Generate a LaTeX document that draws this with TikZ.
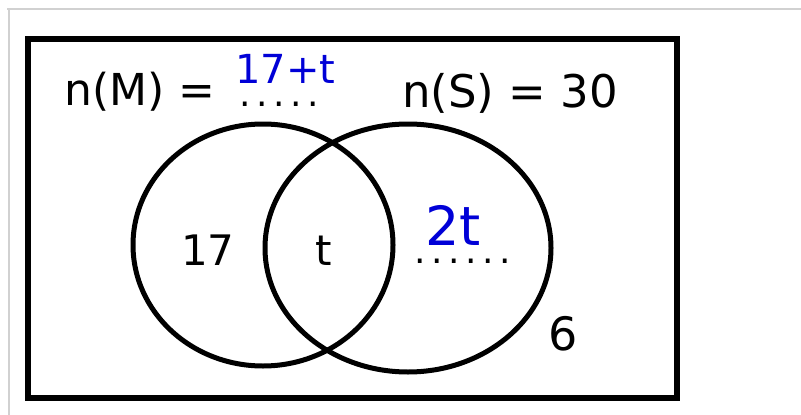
\documentclass[tikz,border=0pt]{standalone}
\usepackage{fontspec}
\setmainfont{DejaVu Sans}
\usetikzlibrary{
    positioning,
    shapes.geometric,
}
\definecolor{ansblue}{RGB}{0,0,215}

\begin{document}
\begin{tikzpicture}[
        x=1pt, y=-1pt,
        frame/.style={draw, line width=6pt},
        edgeline/.style={draw, black!18, line width=1.2pt},
        setring/.style={draw, ellipse, line width=5pt, inner sep=0pt},
        settext/.style={anchor=base west, inner sep=0pt,
            font=\fontsize{44}{52}\selectfont},
        region/.style={anchor=base west, inner sep=0pt,
            font=\fontsize{42}{50}\selectfont},
        blank/.style={anchor=base west, inner sep=0pt,
            font=\fontsize{36}{40}\selectfont\addfontfeature{LetterSpace=15.4}},
        answer/.style={anchor=base west, inner sep=0pt, text=ansblue},
    ]
        \useasboundingbox (0,0) rectangle (801,415);
        % page edges
        \draw[edgeline] (7,9) -- (801,9);
        \draw[edgeline] (9,9) -- (9,415);
        % universal set
        \draw[frame] (28,39) rectangle (677,398);
        % the two sets
        \node[setring, minimum width=260, minimum height=242] (M) at (263,245) {};
        \node[setring, minimum width=286, minimum height=248] (S) at (408,248) {};
        % headings
        \node[settext] (nM) at (64,105) {n(M) =};
        \node[blank] (dotsM) at (239,106) {.....};
        \node[answer, font=\fontsize{40}{48}\selectfont] (ansM) at (235,83) {17+t};
        \node[settext, font=\fontsize{45}{54}\selectfont] (nS) at (402,107) {n(S) = 30};
        % regions
        \node[region] (onlyM) at (181,265) {17};
        \node[region] (both) at (315,265) {t};
        \node[answer, font=\fontsize{54}{64}\selectfont] (ansS) at (425,245) {2t};
        \node[blank] (dotsS) at (414,263) {......};
        \node[region, font=\fontsize{46}{54}\selectfont] (outside) at (548,350) {6};
    \end{tikzpicture}
\end{document}
